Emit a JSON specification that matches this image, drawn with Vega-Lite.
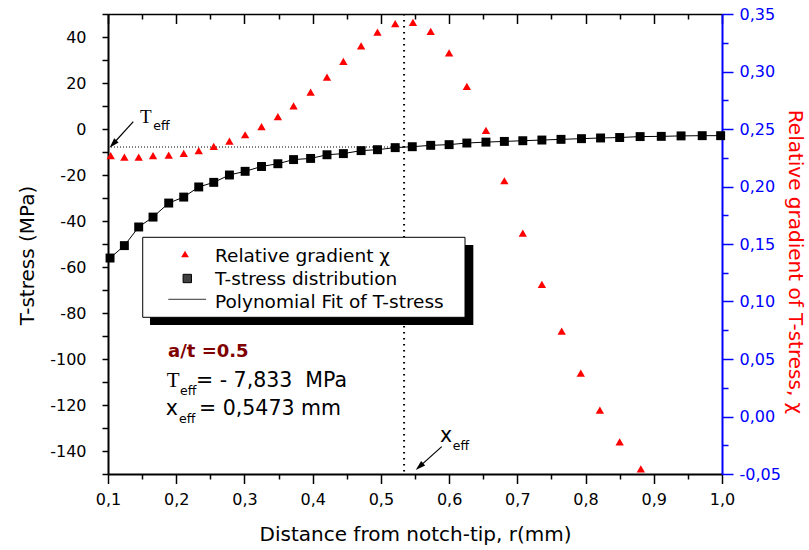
{
  "$schema": "https://vega.github.io/schema/vega-lite/v6.json",
  "width": 614,
  "height": 460,
  "autosize": "none",
  "padding": {"left": 108, "top": 14, "right": 87, "bottom": 76},
  "background": "white",
  "config": {
    "view": {"stroke": null},
    "font": "DejaVu Sans",
    "axis": {
      "grid": false,
      "labelFont": "DejaVu Sans",
      "labelFontSize": 16,
      "labelColor": "#000000",
      "titleFont": "DejaVu Sans",
      "titleFontSize": 20,
      "titleFontWeight": "normal",
      "titleColor": "#000000",
      "domainColor": "#000000",
      "domainWidth": 2,
      "tickColor": "#000000",
      "tickWidth": 1.5,
      "labelOverlap": false,
      "labelFlush": false,
      "labelBound": false
    }
  },
  "datasets": {
    "tstress": [
      {"r": 0.103, "T": -56.1}, {"r": 0.124, "T": -50.7}, {"r": 0.145, "T": -42.6},
      {"r": 0.166, "T": -38.3}, {"r": 0.189, "T": -32.2}, {"r": 0.211, "T": -29.6},
      {"r": 0.233, "T": -25.2}, {"r": 0.255, "T": -23.2}, {"r": 0.278, "T": -20.0},
      {"r": 0.301, "T": -18.4}, {"r": 0.325, "T": -16.3}, {"r": 0.349, "T": -15.1},
      {"r": 0.372, "T": -13.3}, {"r": 0.397, "T": -12.8}, {"r": 0.421, "T": -11.2},
      {"r": 0.445, "T": -10.7}, {"r": 0.471, "T": -9.4}, {"r": 0.495, "T": -9.0},
      {"r": 0.521, "T": -8.1}, {"r": 0.546, "T": -7.7}, {"r": 0.573, "T": -7.1},
      {"r": 0.600, "T": -6.8}, {"r": 0.626, "T": -6.1}, {"r": 0.654, "T": -5.7},
      {"r": 0.681, "T": -5.4}, {"r": 0.708, "T": -5.1}, {"r": 0.736, "T": -4.8},
      {"r": 0.764, "T": -4.5}, {"r": 0.794, "T": -4.2}, {"r": 0.822, "T": -3.9},
      {"r": 0.850, "T": -3.7}, {"r": 0.880, "T": -3.3}, {"r": 0.911, "T": -3.2},
      {"r": 0.940, "T": -3.0}, {"r": 0.971, "T": -2.9}, {"r": 0.998, "T": -2.9}
    ],
    "gradient": [
      {"r": 0.104, "chi": 0.2268}, {"r": 0.124, "chi": 0.2256}, {"r": 0.145, "chi": 0.2256},
      {"r": 0.166, "chi": 0.2268}, {"r": 0.189, "chi": 0.2273}, {"r": 0.211, "chi": 0.2287},
      {"r": 0.233, "chi": 0.2313}, {"r": 0.255, "chi": 0.2348}, {"r": 0.278, "chi": 0.2395},
      {"r": 0.301, "chi": 0.2450}, {"r": 0.325, "chi": 0.2520}, {"r": 0.349, "chi": 0.2607},
      {"r": 0.372, "chi": 0.2702}, {"r": 0.397, "chi": 0.2821}, {"r": 0.421, "chi": 0.2952},
      {"r": 0.445, "chi": 0.3088}, {"r": 0.471, "chi": 0.3222}, {"r": 0.495, "chi": 0.3343},
      {"r": 0.521, "chi": 0.3416}, {"r": 0.547, "chi": 0.3427}, {"r": 0.573, "chi": 0.3349},
      {"r": 0.600, "chi": 0.3161}, {"r": 0.626, "chi": 0.2870}, {"r": 0.654, "chi": 0.2487},
      {"r": 0.681, "chi": 0.2050}, {"r": 0.708, "chi": 0.1595}, {"r": 0.736, "chi": 0.1148},
      {"r": 0.765, "chi": 0.0742}, {"r": 0.793, "chi": 0.0377}, {"r": 0.821, "chi": 0.0055},
      {"r": 0.850, "chi": -0.0221}, {"r": 0.881, "chi": -0.0456}
    ]
  },
  "layer": [
    {
      "resolve": {"axis": {"x": "independent", "y": "independent"}},
      "layer": [
        {
          "data": {"values": [{"r": 0.1, "r2": 0.534, "T": -7.833}]},
          "mark": {"type": "rule", "color": "#000000", "strokeWidth": 1, "strokeDash": [1, 2]},
          "encoding": {
            "x": {"field": "r", "type": "quantitative", "scale": {"domain": [0.1, 1], "nice": false, "zero": false}, "axis": null},
            "x2": {"field": "r2"},
            "y": {"field": "T", "type": "quantitative", "scale": {"domain": [-150, 50], "nice": false, "zero": false}, "axis": null}
          }
        },
        {
          "data": {"values": [{"r": 0.534, "T": 50, "T2": -150}]},
          "mark": {"type": "rule", "color": "#000000", "strokeWidth": 2, "strokeDash": [1.5, 4.5]},
          "encoding": {
            "x": {"field": "r", "type": "quantitative", "scale": {"domain": [0.1, 1], "nice": false, "zero": false}, "axis": null},
            "y": {"field": "T", "type": "quantitative", "scale": {"domain": [-150, 50], "nice": false, "zero": false}, "axis": null},
            "y2": {"field": "T2"}
          }
        },
        {
          "data": {"name": "tstress"},
          "mark": {"type": "line", "color": "#000000", "strokeWidth": 1},
          "encoding": {
            "x": {"field": "r", "type": "quantitative", "scale": {"domain": [0.1, 1], "nice": false, "zero": false}, "axis": null},
            "y": {"field": "T", "type": "quantitative", "scale": {"domain": [-150, 50], "nice": false, "zero": false}, "axis": null}
          }
        },
        {
          "data": {"name": "tstress"},
          "mark": {"type": "point", "shape": "square", "filled": true, "color": "#000000", "size": 80, "opacity": 1},
          "encoding": {
            "x": {
              "field": "r", "type": "quantitative",
              "scale": {"domain": [0.1, 1], "nice": false, "zero": false},
              "axis": {
                "orient": "bottom",
                "title": "Distance from notch-tip, r(mm)",
                "values": [0.1, 0.15, 0.2, 0.25, 0.3, 0.35, 0.4, 0.45, 0.5, 0.55, 0.6, 0.65, 0.7, 0.75, 0.8, 0.85, 0.9, 0.95, 1.0],
                "labelExpr": "abs(round(datum.value*20)) % 2 == 0 ? replace(format(datum.value, '.1f'), '.', ',') : ''",
                "tickSize": {"condition": {"test": "abs(round(datum.value*20)) % 2 == 0", "value": 9.5}, "value": 5},
                "labelPadding": 8,
                "titleX": 307,
                "titleY": 66,
                "titleAlign": "center",
                "titleBaseline": "alphabetic"
              }
            },
            "y": {
              "field": "T", "type": "quantitative",
              "scale": {"domain": [-150, 50], "nice": false, "zero": false},
              "axis": {
                "orient": "left",
                "title": "T-stress (MPa)",
                "values": [-150, -140, -130, -120, -110, -100, -90, -80, -70, -60, -50, -40, -30, -20, -10, 0, 10, 20, 30, 40, 50],
                "labelExpr": "datum.value % 20 == 0 && datum.value <= 40 && datum.value >= -140 ? '' + datum.value : ''",
                "tickSize": 6,
                "labelPadding": 16,
                "titleAngle": 270,
                "titleX": -74.7,
                "titleY": 241,
                "titleAlign": "center",
                "titleBaseline": "alphabetic"
              }
            }
          }
        },
        {
          "data": {"values": [{"r": 0.1616, "r2": 0.6355, "T": -50.43, "T2": -85.22}]},
          "mark": {"type": "rect", "color": "#000000"},
          "encoding": {
            "x": {"field": "r", "type": "quantitative", "scale": {"domain": [0.1, 1], "nice": false, "zero": false}, "axis": null},
            "x2": {"field": "r2"},
            "y": {"field": "T", "type": "quantitative", "scale": {"domain": [-150, 50], "nice": false, "zero": false}, "axis": null},
            "y2": {"field": "T2"}
          }
        },
        {
          "data": {"values": [{"r": 0.1509, "r2": 0.6233, "T": -47.09, "T2": -81.87}]},
          "mark": {"type": "rect", "fill": "#FFFFFF", "stroke": "#000000", "strokeWidth": 1},
          "encoding": {
            "x": {"field": "r", "type": "quantitative", "scale": {"domain": [0.1, 1], "nice": false, "zero": false}, "axis": null},
            "x2": {"field": "r2"},
            "y": {"field": "T", "type": "quantitative", "scale": {"domain": [-150, 50], "nice": false, "zero": false}, "axis": null},
            "y2": {"field": "T2"}
          }
        },
        {
          "data": {"values": [{"r": 0.2129, "T": -54.35}]},
          "mark": {"type": "point", "shape": "triangle-up", "filled": true, "color": "#FF0000", "size": 60, "opacity": 1},
          "encoding": {
            "x": {"field": "r", "type": "quantitative", "scale": {"domain": [0.1, 1], "nice": false, "zero": false}, "axis": null},
            "y": {"field": "T", "type": "quantitative", "scale": {"domain": [-150, 50], "nice": false, "zero": false}, "axis": null}
          }
        },
        {
          "data": {"values": [{"r": 0.2162, "T": -65.0}]},
          "mark": {"type": "point", "shape": "square", "filled": true, "fill": "#404040", "stroke": "#000000", "strokeWidth": 1, "size": 70, "opacity": 1},
          "encoding": {
            "x": {"field": "r", "type": "quantitative", "scale": {"domain": [0.1, 1], "nice": false, "zero": false}, "axis": null},
            "y": {"field": "T", "type": "quantitative", "scale": {"domain": [-150, 50], "nice": false, "zero": false}, "axis": null}
          }
        },
        {
          "data": {"values": [{"r": 0.1884, "r2": 0.2437, "T": -74.04}]},
          "mark": {"type": "rule", "color": "#333333", "strokeWidth": 1},
          "encoding": {
            "x": {"field": "r", "type": "quantitative", "scale": {"domain": [0.1, 1], "nice": false, "zero": false}, "axis": null},
            "x2": {"field": "r2"},
            "y": {"field": "T", "type": "quantitative", "scale": {"domain": [-150, 50], "nice": false, "zero": false}, "axis": null}
          }
        },
        {
          "data": {"values": [
            {"r": 0.2568, "T": -57.7, "label": "Relative gradient χ"},
            {"r": 0.2568, "T": -67.8, "label": "T-stress distribution"},
            {"r": 0.2568, "T": -77.96, "label": "Polynomial Fit of T-stress"}
          ]},
          "mark": {"type": "text", "align": "left", "baseline": "alphabetic", "font": "DejaVu Sans", "fontSize": 18.5, "color": "#000000"},
          "encoding": {
            "x": {"field": "r", "type": "quantitative", "scale": {"domain": [0.1, 1], "nice": false, "zero": false}, "axis": null},
            "y": {"field": "T", "type": "quantitative", "scale": {"domain": [-150, 50], "nice": false, "zero": false}, "axis": null},
            "text": {"field": "label"}
          }
        },
        {
          "data": {"values": [{"r": 0.188, "T": -99.0, "label": "a/t =0.5"}]},
          "mark": {"type": "text", "align": "left", "baseline": "alphabetic", "font": "DejaVu Sans", "fontSize": 18, "fontWeight": "bold", "color": "#800000"},
          "encoding": {
            "x": {"field": "r", "type": "quantitative", "scale": {"domain": [0.1, 1], "nice": false, "zero": false}, "axis": null},
            "y": {"field": "T", "type": "quantitative", "scale": {"domain": [-150, 50], "nice": false, "zero": false}, "axis": null},
            "text": {"field": "label"}
          }
        },
        {
          "data": {"values": [{"r": 0.186, "T": -112.3, "label": "T"}]},
          "mark": {"type": "text", "align": "left", "baseline": "alphabetic", "font": "Liberation Serif", "fontSize": 21, "color": "#000000"},
          "encoding": {
            "x": {"field": "r", "type": "quantitative", "scale": {"domain": [0.1, 1], "nice": false, "zero": false}, "axis": null},
            "y": {"field": "T", "type": "quantitative", "scale": {"domain": [-150, 50], "nice": false, "zero": false}, "axis": null},
            "text": {"field": "label"}
          }
        },
        {
          "data": {"values": [{"r": 0.1469, "T": 2.48, "label": "T"}]},
          "mark": {"type": "text", "align": "left", "baseline": "alphabetic", "font": "Liberation Serif", "fontSize": 19, "color": "#000000"},
          "encoding": {
            "x": {"field": "r", "type": "quantitative", "scale": {"domain": [0.1, 1], "nice": false, "zero": false}, "axis": null},
            "y": {"field": "T", "type": "quantitative", "scale": {"domain": [-150, 50], "nice": false, "zero": false}, "axis": null},
            "text": {"field": "label"}
          }
        },
        {
          "data": {"values": [
            {"r": 0.2055, "T": -115.65, "label": "eff"},
            {"r": 0.2041, "T": -127.7, "label": "eff"},
            {"r": 0.1664, "T": -0.43, "label": "eff"},
            {"r": 0.6053, "T": -139.57, "label": "eff"}
          ]},
          "mark": {"type": "text", "align": "left", "baseline": "alphabetic", "font": "DejaVu Sans", "fontSize": 12.5, "color": "#000000"},
          "encoding": {
            "x": {"field": "r", "type": "quantitative", "scale": {"domain": [0.1, 1], "nice": false, "zero": false}, "axis": null},
            "y": {"field": "T", "type": "quantitative", "scale": {"domain": [-150, 50], "nice": false, "zero": false}, "axis": null},
            "text": {"field": "label"}
          }
        },
        {
          "data": {"values": [
            {"r": 0.229, "T": -112.3, "label": "= - 7,833 \u00a0MPa"},
            {"r": 0.1846, "T": -124.35, "label": "x"},
            {"r": 0.2335, "T": -124.35, "label": "= 0,5473 mm"},
            {"r": 0.5867, "T": -135.96, "label": "x"}
          ]},
          "mark": {"type": "text", "align": "left", "baseline": "alphabetic", "font": "DejaVu Sans", "fontSize": 20.5, "color": "#000000"},
          "encoding": {
            "x": {"field": "r", "type": "quantitative", "scale": {"domain": [0.1, 1], "nice": false, "zero": false}, "axis": null},
            "y": {"field": "T", "type": "quantitative", "scale": {"domain": [-150, 50], "nice": false, "zero": false}, "axis": null},
            "text": {"field": "label"}
          }
        },
        {
          "data": {"values": [
            {"r": 0.1371, "T": 3.17, "r2": 0.1073, "T2": -6.52},
            {"r": 0.5892, "T": -138.1, "r2": 0.5565, "T2": -146.8}
          ]},
          "mark": {"type": "rule", "color": "#000000", "strokeWidth": 1.2},
          "encoding": {
            "x": {"field": "r", "type": "quantitative", "scale": {"domain": [0.1, 1], "nice": false, "zero": false}, "axis": null},
            "x2": {"field": "r2"},
            "y": {"field": "T", "type": "quantitative", "scale": {"domain": [-150, 50], "nice": false, "zero": false}, "axis": null},
            "y2": {"field": "T2"}
          }
        },
        {
          "data": {"values": [{"r": 0.1073, "T": -6.52}]},
          "mark": {"type": "point", "shape": "M0,-1L-0.6,1L0.6,1Z", "filled": true, "color": "#000000", "size": 100, "angle": 223, "opacity": 1},
          "encoding": {
            "x": {"field": "r", "type": "quantitative", "scale": {"domain": [0.1, 1], "nice": false, "zero": false}, "axis": null},
            "y": {"field": "T", "type": "quantitative", "scale": {"domain": [-150, 50], "nice": false, "zero": false}, "axis": null}
          }
        },
        {
          "data": {"values": [{"r": 0.5565, "T": -146.8}]},
          "mark": {"type": "point", "shape": "M0,-1L-0.6,1L0.6,1Z", "filled": true, "color": "#000000", "size": 100, "angle": 228, "opacity": 1},
          "encoding": {
            "x": {"field": "r", "type": "quantitative", "scale": {"domain": [0.1, 1], "nice": false, "zero": false}, "axis": null},
            "y": {"field": "T", "type": "quantitative", "scale": {"domain": [-150, 50], "nice": false, "zero": false}, "axis": null}
          }
        }
      ]
    },
    {
      "layer": [
        {
          "data": {"name": "gradient"},
          "mark": {"type": "point", "shape": "triangle-up", "filled": true, "color": "#FF0000", "size": 70, "opacity": 1},
          "encoding": {
            "x": {
              "field": "r", "type": "quantitative",
              "scale": {"domain": [0.1, 1], "nice": false, "zero": false},
              "axis": {
                "orient": "top",
                "title": null,
                "labels": false,
                "values": [0.1, 0.15, 0.2, 0.25, 0.3, 0.35, 0.4, 0.45, 0.5, 0.55, 0.6, 0.65, 0.7, 0.75, 0.8, 0.85, 0.9, 0.95, 1.0],
                "tickSize": {"condition": {"test": "abs(round(datum.value*20)) % 2 == 0", "value": -9.5}, "value": -5},
                "domainWidth": 1.5
              }
            },
            "y": {
              "field": "chi", "type": "quantitative",
              "scale": {"domain": [-0.05, 0.35], "nice": false, "zero": false},
              "axis": {
                "orient": "right",
                "title": "Relative gradient of T-stress, χ",
                "values": [-0.05, -0.025, 0, 0.025, 0.05, 0.075, 0.1, 0.125, 0.15, 0.175, 0.2, 0.225, 0.25, 0.275, 0.3, 0.325, 0.35],
                "labelExpr": "abs(round(datum.value*40)) % 2 == 0 ? (datum.value < -0.001 ? '-' : '') + replace(format(abs(datum.value), '.2f'), '.', ',') : ''",
                "tickSize": {"condition": {"test": "abs(round(datum.value*40)) % 2 == 0", "value": 11}, "value": 6},
                "labelPadding": 6,
                "domainColor": "#0000FF",
                "tickColor": "#0000FF",
                "labelColor": "#0000FF",
                "titleColor": "#FF0000",
                "titleAngle": 90,
                "titleX": 66,
                "titleY": 247.5,
                "titleAlign": "center",
                "titleBaseline": "alphabetic"
              }
            }
          }
        }
      ]
    }
  ],
  "resolve": {"scale": {"y": "independent"}, "axis": {"x": "independent", "y": "independent"}}
}
